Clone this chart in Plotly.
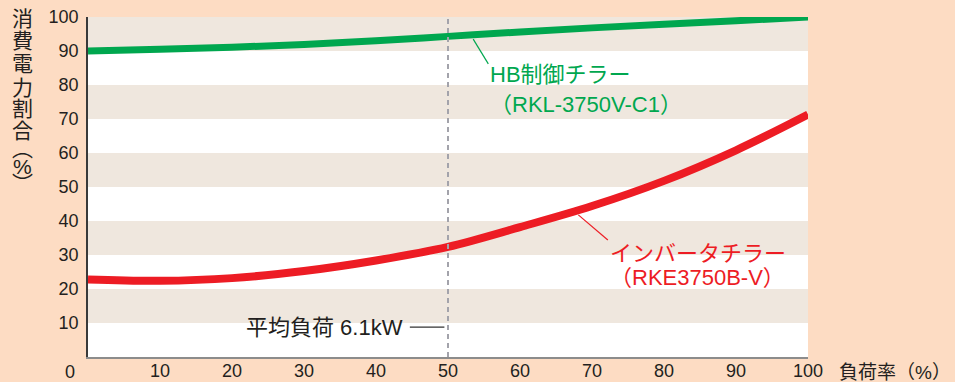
import plotly.graph_objects as go

# Load factor (%) and power consumption ratio (%) for the two chillers
load_pct = [0, 10, 20, 30, 40, 50, 60, 70, 80, 90, 100]
hb_ratio = [90.0, 90.5, 91.1, 91.9, 93.0, 94.3, 95.6, 96.8, 97.9, 98.9, 100.0]
inv_ratio = [22.8, 22.4, 23.2, 25.3, 28.4, 32.4, 38.2, 44.4, 51.8, 60.8, 71.3]

x_ticks = [10, 20, 30, 40, 50, 60, 70, 80, 90, 100]
y_ticks = [10, 20, 30, 40, 50, 60, 70, 80, 90, 100]
avg_load = 50  # load factor at the average load of 6.1 kW

GREEN = "#00a74f"
RED = "#ed1c24"
PEACH = "#fddcc3"
BAND = "#efe7de"
FONT = "Liberation Sans, Noto Sans CJK JP, sans-serif"

fig = go.Figure()

fig.add_trace(go.Scatter(x=load_pct, y=hb_ratio, mode="lines", line=dict(color=GREEN, width=7, shape="spline"),
                         hoverinfo="skip", showlegend=False))
fig.add_trace(go.Scatter(x=load_pct, y=inv_ratio, mode="lines", line=dict(color=RED, width=8, shape="spline"),
                         hoverinfo="skip", showlegend=False))

shapes = []
# alternating horizontal bands: shaded 10-20, 30-40, ... 90-100
for lo in [0] + y_ticks[:-1]:
    if (lo // 10) % 2 == 1:
        shapes.append(dict(type="rect", xref="x", yref="y", x0=0, x1=100, y0=lo, y1=lo + 10,
                           fillcolor=BAND, line=dict(width=0), layer="below"))
# average-load marker
shapes.append(dict(type="line", xref="x", yref="y", x0=avg_load, x1=avg_load, y0=0, y1=100,
                   line=dict(color="#a3a3ab", width=2, dash="5px,4px"), layer="above"))
# leader lines
shapes.append(dict(type="line", xref="x", yref="y", x0=53.5, y0=93.5, x1=55.6, y1=86.2,
                   line=dict(color=GREEN, width=1.2)))
shapes.append(dict(type="line", xref="x", yref="y", x0=68.1, y0=41.8, x1=72.2, y1=34.4,
                   line=dict(color=RED, width=1.2)))
shapes.append(dict(type="line", xref="x", yref="y", x0=44.7, y0=8.8, x1=49.5, y1=8.8,
                   line=dict(color="#333333", width=1.2)))

annotations = [
    dict(x=55.6, y=83.0, text="HB制御チラー", font=dict(color=GREEN, size=22)),
    dict(x=55.6, y=74.3, text="（RKL-3750V-C1）", font=dict(color=GREEN, size=22)),
    dict(x=72.2, y=30.4, text="インバータチラー", font=dict(color=RED, size=22)),
    dict(x=72.2, y=23.3, text="（RKE3750B-V）", font=dict(color=RED, size=22)),
]
for a in annotations:
    a.update(xref="x", yref="y", xanchor="left", yanchor="middle", showarrow=False)
annotations.append(dict(x=44.0, y=8.8, xref="x", yref="y", xanchor="right", yanchor="middle",
                        text="平均負荷 6.1kW", showarrow=False, font=dict(color="#231f20", size=22)))
# corner zero label
annotations.append(dict(x=-0.015, y=-0.045, xref="paper", yref="paper", xanchor="right", yanchor="middle",
                        text="0", showarrow=False, font=dict(color="#231f20", size=18)))
# x-axis title
annotations.append(dict(x=1.04, y=-0.045, xref="paper", yref="paper", xanchor="left", yanchor="middle",
                        text="負荷率（%）", showarrow=False, font=dict(color="#231f20", size=19)))
# vertical y-axis title, one glyph per row
title_chars = ["消", "費", "電", "力", "割", "合", "︵", "%", "︶"]
title_rows = [19, 41, 64, 87, 108, 130, 149, 166, 183]
for ch, row in zip(title_chars, title_rows):
    annotations.append(dict(x=(22 - 88) / 720, y=(357 - row) / 340, xref="paper", yref="paper",
                            text=ch, showarrow=False, xanchor="center", yanchor="middle",
                            font=dict(color="#231f20", size=21)))

fig.update_layout(
    width=955, height=382,
    margin=dict(l=88, r=147, t=17, b=25, autoexpand=False),
    paper_bgcolor=PEACH, plot_bgcolor="white",
    font=dict(family=FONT, color="#231f20"),
    shapes=shapes, annotations=annotations,
    xaxis=dict(range=[0, 100], tickvals=x_ticks, ticktext=[str(v) for v in x_ticks],
               showgrid=False, zeroline=False, showline=True, linecolor="#8c8c8c", linewidth=2,
               ticks="", tickfont=dict(size=18), ticklabelstandoff=-4, automargin=False, fixedrange=True),
    yaxis=dict(range=[0, 100], tickvals=y_ticks, ticktext=[str(v) for v in y_ticks],
               showgrid=False, zeroline=False, showline=True, linecolor="#3a3a3a", linewidth=1.5,
               ticks="", tickfont=dict(size=18), ticklabelstandoff=4, automargin=False, fixedrange=True),
)

fig.write_html("out.html")
